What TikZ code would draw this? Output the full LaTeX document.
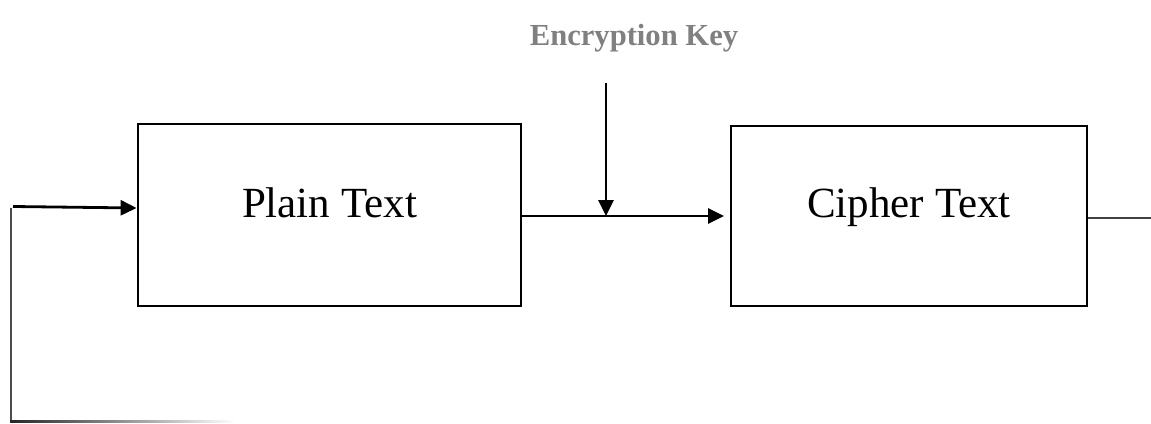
\documentclass[tikz,border=0pt]{standalone}
\usepackage{fontspec}
\setmainfont{Liberation Serif}
\usetikzlibrary{arrows.meta}
\begin{document}
\begin{tikzpicture}[x=1pt,y=-1pt,
  blockbox/.style={draw=black,line width=2.8pt,minimum width=383pt,minimum height=182pt,
    inner sep=0pt},
  boxtext/.style={anchor=base,font=\fontsize{43}{48}\selectfont},
  flow/.style={line width=2.8pt,-{Triangle[length=16pt,width=15pt]}},
  thinline/.style={line width=1.8pt,draw=black!75}]
\useasboundingbox (0,0) rectangle (1151,423);

\node[blockbox] (plain) at (329.5,215) {};
\node[blockbox,minimum width=356pt,minimum height=180pt] (cipher) at (909,216) {};
\node[boxtext] (plaintxt) at (329.5,217) {Plain Text};
\node[boxtext] (ciphertxt) at (909,217) {Cipher Text};
\node[anchor=base,text=black!50,font=\fontsize{30.6}{36}\selectfont\bfseries] (keylbl) at (634,45) {Encryption Key};

% key injection point on the main flow
\coordinate (keytop) at (606,83);
\coordinate (join) at (606,216);
\coordinate (flowend) at (724,216);
\draw[flow] (keytop) -- (join);
\draw[flow] (plain.east |- join) -- (flowend);

% output and feedback path
\coordinate (outend) at (1151,218);
\draw[thinline] (cipher.east |- outend) -- (outend);
\coordinate (fbtop) at (11,208);
\coordinate (fbcorner) at (11,421);
\coordinate (fbend) at (235,421);
\draw[thinline,draw=black!70] (fbtop) -- (fbcorner);
\shade[left color=black!85,right color=white] (10.1,420) rectangle (fbend |- 0,422.2);
\coordinate (instart) at (13,206.5);
\draw[flow] (instart) -- (plain.west |- 0,208);
\end{tikzpicture}
\end{document}
